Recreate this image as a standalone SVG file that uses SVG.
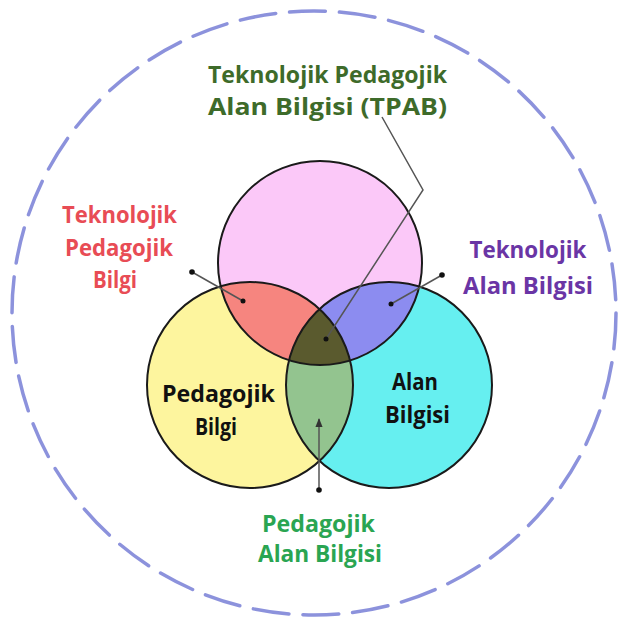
<svg xmlns="http://www.w3.org/2000/svg" width="619" height="624" viewBox="0 0 619 624">
<style>
.t{font-family:"Open Sans","DejaVu Sans",sans-serif;font-weight:700;font-size:24px;text-anchor:middle}
.ol{fill:none;stroke:#1a1a1a;stroke-width:2}
.cn{fill:none;stroke:#555;stroke-width:1.5}
.dot{fill:#111}
</style>
<defs>
<clipPath id="cP"><circle cx="320" cy="263" r="102"/></clipPath>
<clipPath id="cY"><circle cx="250" cy="385" r="103"/></clipPath>
<marker id="ah" viewBox="0 0 10 10" refX="9" refY="5" markerWidth="6" markerHeight="6" orient="auto"><path d="M0,1 L10,5 L0,9 z" fill="#333"/></marker>
</defs>
<rect width="619" height="624" fill="#fff"/>
<circle id="outer" cx="314" cy="313" r="302" fill="none" stroke="#7f86d8" stroke-width="3.5" stroke-dasharray="36 13.93" stroke-linecap="round" opacity="0.9"/>
<g id="tech"><circle cx="320" cy="263" r="102" fill="#fbc8f8"/></g>
<g id="ped"><circle cx="250" cy="385" r="103" fill="#fdf59e"/></g>
<g id="alan"><circle cx="389" cy="385" r="103" fill="#66eff0"/></g>
<g id="tpb"><g clip-path="url(#cP)"><circle cx="250" cy="385" r="103" fill="#f6857f"/></g></g>
<g id="tab"><g clip-path="url(#cP)"><circle cx="389" cy="385" r="103" fill="#8c8cf0"/></g></g>
<g id="pab"><g clip-path="url(#cY)"><circle cx="389" cy="385" r="103" fill="#93c48f"/></g></g>
<g id="tpab"><g clip-path="url(#cP)"><g clip-path="url(#cY)"><circle cx="389" cy="385" r="103" fill="#5a5a2e"/></g></g></g>
<g id="outlines">
<circle class="ol" cx="320" cy="263" r="102"/>
<circle class="ol" cx="250" cy="385" r="103"/>
<circle class="ol" cx="389" cy="385" r="103"/>
</g>
<g id="connectors">
<polyline class="cn" points="382,117 423,190 326,339"/>
<circle class="dot" cx="326" cy="339" r="2.5"/>
<line class="cn" x1="192" y1="272" x2="243" y2="301"/>
<circle class="dot" cx="192" cy="272" r="2.8"/>
<circle class="dot" cx="243" cy="301" r="2.5"/>
<line class="cn" x1="442" y1="275" x2="391" y2="304"/>
<circle class="dot" cx="442" cy="275" r="2.8"/>
<circle class="dot" cx="391" cy="304" r="2.5"/>
<line class="cn" x1="319" y1="490" x2="319" y2="419" marker-end="url(#ah)"/>
<circle class="dot" cx="319" cy="490" r="2.8"/>
</g>
<g id="label-tpab" fill="#3e6b2a">
<text class="t" x="327.5" y="83" textLength="239" lengthAdjust="spacingAndGlyphs">Teknolojik Pedagojik</text>
<text class="t" x="327.5" y="115" textLength="239" lengthAdjust="spacingAndGlyphs">Alan Bilgisi (TPAB)</text>
</g>
<g id="label-tpb" fill="#e84c55">
<text class="t" x="119.5" y="223" textLength="115" lengthAdjust="spacingAndGlyphs">Teknolojik</text>
<text class="t" x="119" y="256" textLength="108" lengthAdjust="spacingAndGlyphs">Pedagojik</text>
<text class="t" x="115" y="288" textLength="44" lengthAdjust="spacingAndGlyphs">Bilgi</text>
</g>
<g id="label-tab" fill="#6a35a5">
<text class="t" x="528" y="258" textLength="117" lengthAdjust="spacingAndGlyphs">Teknolojik</text>
<text class="t" x="528" y="294" textLength="130" lengthAdjust="spacingAndGlyphs">Alan Bilgisi</text>
</g>
<g id="label-pb" fill="#111">
<text class="t" x="218.5" y="402" textLength="113" lengthAdjust="spacingAndGlyphs">Pedagojik</text>
<text class="t" x="216" y="435" textLength="42" lengthAdjust="spacingAndGlyphs">Bilgi</text>
</g>
<g id="label-ab" fill="#111">
<text class="t" x="415" y="390" textLength="46" lengthAdjust="spacingAndGlyphs">Alan</text>
<text class="t" x="417.5" y="423" textLength="65" lengthAdjust="spacingAndGlyphs">Bilgisi</text>
</g>
<g id="label-pab" fill="#2aa552">
<text class="t" x="318.5" y="532" textLength="113" lengthAdjust="spacingAndGlyphs">Pedagojik</text>
<text class="t" x="320" y="562" textLength="124" lengthAdjust="spacingAndGlyphs">Alan Bilgisi</text>
</g>
</svg>
